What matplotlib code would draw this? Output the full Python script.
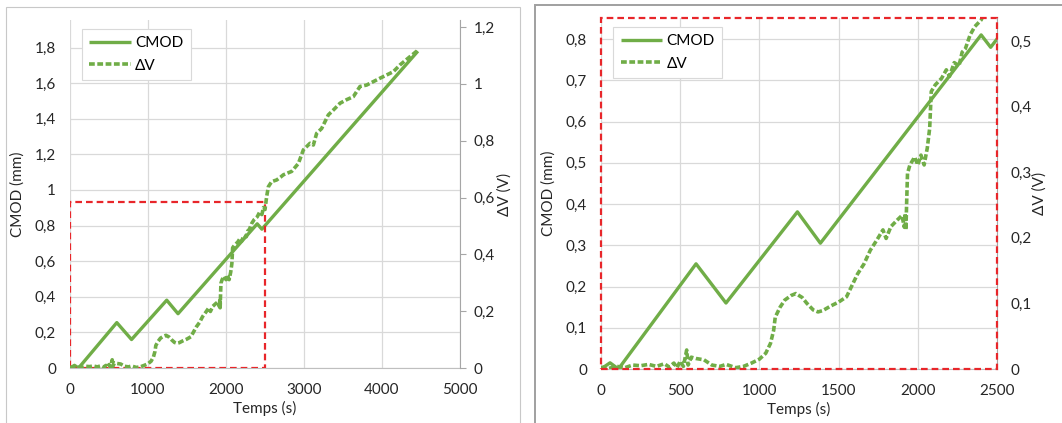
"""
CMOD and delta V versus time.
Full test on the left, zoom on the first 2500 s on the right.
"""

import matplotlib
matplotlib.use("Agg")
import matplotlib.pyplot as plt
from matplotlib.patches import Rectangle
from matplotlib.ticker import FuncFormatter, MultipleLocator

# CMOD (mm) versus time (s)
cmod_t = [0, 57, 110, 600, 789, 1240, 1385, 2400, 2460, 4460]
cmod_v = [0, 0.015, 0, 0.255, 0.16, 0.381, 0.305, 0.81, 0.78, 1.78]

# Delta V (V) versus time (s)
dv_t = [0, 20, 50, 100, 150, 200, 250, 300, 350, 400, 430, 460, 480, 500,
        520, 541, 550, 570, 600, 650, 700, 750, 790, 850, 900, 950, 1000,
        1040, 1070, 1090, 1100, 1130, 1160, 1200, 1230, 1270, 1300, 1340,
        1370, 1400, 1450, 1500, 1550, 1580, 1620, 1660, 1700, 1740, 1780,
        1800, 1830, 1870, 1900, 1915, 1920, 1925, 1930, 1935, 1950, 1980,
        2000, 2020, 2040, 2060, 2075, 2085, 2110, 2150, 2180, 2200, 2230,
        2260, 2280, 2300, 2330, 2360, 2400, 2430, 2460, 2480, 2500, 2521,
        2543, 2585, 2650, 2700, 2735, 2842, 2928, 2992, 3077, 3120, 3162,
        3226, 3312, 3376, 3462, 3550, 3632, 3718, 3803, 3974, 4145, 4231,
        4359, 4466]
dv_v = [0.002, 0.003, 0.001, 0.004, 0.002, 0.006, 0.005, 0.007, 0.004,
        0.008, 0.003, 0.009, 0.002, 0.012, 0.004, 0.029, 0.006, 0.018,
        0.016, 0.014, 0.006, 0.004, 0.007, 0.002, 0.004, 0.009, 0.015,
        0.024, 0.039, 0.059, 0.079, 0.094, 0.105, 0.112, 0.115, 0.109,
        0.100, 0.090, 0.087, 0.089, 0.096, 0.102, 0.110, 0.125, 0.145,
        0.160, 0.181, 0.196, 0.212, 0.199, 0.217, 0.227, 0.234, 0.216,
        0.237, 0.212, 0.257, 0.298, 0.311, 0.323, 0.311, 0.326, 0.311,
        0.337, 0.367, 0.423, 0.433, 0.443, 0.456, 0.446, 0.467, 0.462,
        0.483, 0.488, 0.509, 0.522, 0.532, 0.548, 0.540, 0.565, 0.558,
        0.603, 0.638, 0.656, 0.662, 0.672, 0.680, 0.692, 0.720, 0.768,
        0.791, 0.785, 0.826, 0.843, 0.891, 0.908, 0.932, 0.945, 0.955,
        0.991, 0.996, 1.020, 1.043, 1.067, 1.096, 1.120]

GREEN = "#70AD47"
RED = "#E8262A"
GRID = "#d9d9d9"
TXT = "#262626"

plt.rcParams["font.family"] = ["Lato", "DejaVu Sans"]
plt.rcParams["font.size"] = 11

comma = FuncFormatter(lambda v, p: f"{round(v, 3):g}".replace(".", ","))


def draw_panel(fig, rect, xmax, xstep, ymax, ystep, y2max, y2step, lab_x):
    ax = fig.add_axes(rect)
    ax2 = ax.twinx()

    ax.plot(cmod_t, cmod_v, color=GREEN, lw=2.4, solid_capstyle="butt")
    ax2.plot(dv_t, dv_v, color=GREEN, lw=2.6, ls=(0, (1.6, 0.7)))

    ax.set_xlim(0, xmax)
    ax.set_ylim(0, ymax)
    ax2.set_ylim(0, y2max)
    ax.xaxis.set_major_locator(MultipleLocator(xstep))
    ax.yaxis.set_major_locator(MultipleLocator(ystep))
    ax2.yaxis.set_major_locator(MultipleLocator(y2step))
    for a in (ax, ax2):
        a.xaxis.set_major_formatter(comma)
        a.yaxis.set_major_formatter(comma)

    ax.grid(True, color=GRID, lw=0.9)
    ax.set_axisbelow(True)
    for s in ("left", "top", "right"):
        ax.spines[s].set_visible(False)
    ax.spines["bottom"].set_color("#bfbfbf")
    for s in ("left", "top", "bottom"):
        ax2.spines[s].set_visible(False)
    ax2.spines["right"].set_color("#a6a6a6")

    ax.tick_params(axis="both", length=0, colors=TXT, labelsize=11)
    ax.tick_params(axis="y", pad=10)
    ax.tick_params(axis="x", pad=11)
    ax2.tick_params(axis="y", length=4, color="#a6a6a6", colors=TXT,
                    labelsize=11, pad=6)

    ax.set_xlabel("Temps (s)", color=TXT, fontsize=11)
    ax.set_ylabel("CMOD (mm)", color=TXT, fontsize=11)
    ax2.set_ylabel("ΔV (V)", color=TXT, fontsize=11)
    ax.xaxis.set_label_coords(0.5, -0.095)
    ax.yaxis.set_label_coords(-0.115, 0.5)
    ax2.yaxis.set_label_coords(lab_x, 0.5)

    h1 = ax.get_lines()[0]
    h2 = ax2.get_lines()[0]
    leg = ax2.legend([h1, h2], ["CMOD", "ΔV"], loc="upper left",
                     bbox_to_anchor=(0.03, 0.975), borderaxespad=0,
                     fancybox=False, edgecolor=GRID, framealpha=1,
                     handlelength=2.7, labelspacing=0.55, fontsize=11,
                     borderpad=0.5, handletextpad=0.3)
    leg.get_frame().set_linewidth(0.8)
    return ax, ax2


fig = plt.figure(figsize=(10.62, 4.23), dpi=100)

# outer frames of the two sub-pictures
fig.add_artist(Rectangle((6 / 1062, -0.05), 514 / 1062, 1.05 - 7 / 423,
                         transform=fig.transFigure, fill=False,
                         edgecolor="#c8c8c8", lw=0.8))
fig.add_artist(Rectangle((535 / 1062, -0.05), 540 / 1062, 1.05 - 5 / 423,
                         transform=fig.transFigure, fill=False,
                         edgecolor="#a0a0a0", lw=1.4))

axl, axl2 = draw_panel(fig, [70 / 1062, 55 / 423, 390 / 1062, 348 / 423],
                       5000, 1000, 1.955, 0.2, 1.225, 0.2, 1.095)
axl.add_patch(Rectangle((0, 0), 2500, 0.935, fill=False, edgecolor=RED,
                        lw=1.6, ls=(0, (3, 1.8)), zorder=5))

axr, axr2 = draw_panel(fig, [601 / 1062, 54 / 423, 396 / 1062, 351 / 423],
                       2500, 500, 0.851, 0.1, 0.535, 0.1, 1.09)
axr2.tick_params(axis="y", length=0, pad=10)
axr2.add_patch(Rectangle((0, 0), 1, 1, transform=axr2.transAxes,
                         fill=False, edgecolor=RED, lw=1.6,
                         ls=(0, (3, 1.8)), clip_on=False, zorder=5))

fig.savefig("out.png", dpi=100)
